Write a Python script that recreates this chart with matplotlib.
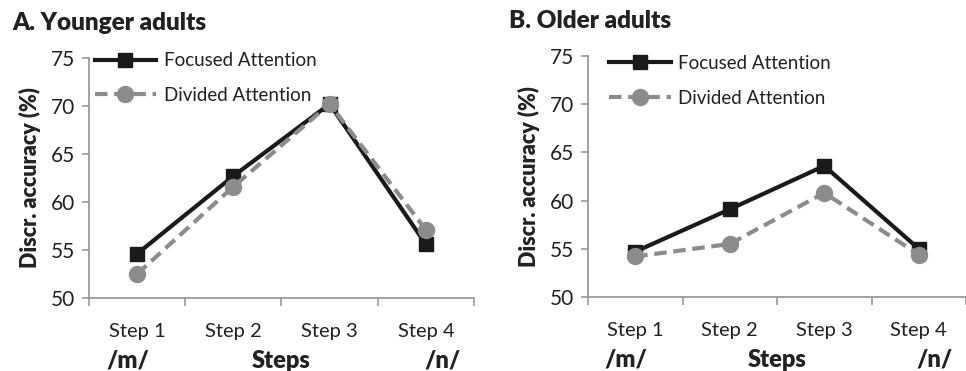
import numpy as np
import matplotlib.pyplot as plt
import matplotlib.transforms as mtransforms

steps = ["Step 1", "Step 2", "Step 3", "Step 4"]
younger_focused = [54.6, 62.7, 70.2, 55.6]
younger_divided = [52.5, 61.6, 70.2, 57.1]
older_focused = [54.7, 59.1, 63.6, 55.0]
older_divided = [54.2, 55.5, 60.8, 54.4]
titles = ["A. Younger adults", "B. Older adults"]
yticks = [50, 55, 60, 65, 70, 75]

plt.rcParams['font.family'] = ['Lato', 'DejaVu Sans']
txt = '#222222'
spine = '#9a9a9a'

fig = plt.figure(figsize=(9.66, 3.71), dpi=100)
ax1 = fig.add_axes([0.0921, 0.1968, 0.3986, 0.647])
ax2 = fig.add_axes([0.6087, 0.1995, 0.3913, 0.6496])

panels = [(ax1, younger_focused, younger_divided, (-0.005, 1.055), -0.2),
          (ax2, older_focused, older_divided, (0.035, 1.035), -0.21)]

x = np.arange(len(steps))
for i, (ax, foc, div, leg_pos, title_x) in enumerate(panels):
    ax.plot(x, foc, color='#1a1a1a', lw=3.0, marker='s', markersize=10.5,
            label='Focused Attention', zorder=3)
    ax.plot(x, div, color='#8c8c8c', lw=3.0, ls=(0, (3, 1.6)), marker='o',
            markersize=11.5, label='Divided Attention', zorder=4)
    ax.set_xlim(-0.5, 3.5)
    ax.set_ylim(50, 75)
    ax.set_yticks(yticks)
    ax.set_xticks(x)
    ax.set_xticklabels(steps, fontsize=14.5, color=txt)
    ax.set_xticks(np.arange(-0.5, 4.0, 1.0), minor=True)
    ax.tick_params(axis='x', which='major', length=0, pad=18)
    ax.tick_params(axis='x', which='minor', length=6, width=1.2, color=spine, direction='out')
    ax.tick_params(axis='y', length=5, width=1.2, color=spine, labelsize=15,
                   labelcolor=txt, pad=5)
    for s in ['top', 'right']:
        ax.spines[s].set_visible(False)
    for s in ['left', 'bottom']:
        ax.spines[s].set_color(spine)
        ax.spines[s].set_linewidth(1.3)
    ax.set_ylabel('Discr. accuracy (%)', fontsize=15.5, fontweight='heavy', color=txt, labelpad=7)
    ax.text(title_x, 1.117, titles[i], transform=ax.transAxes,
            fontsize=17.5, fontweight='heavy', color=txt, ha='left', va='baseline')
    tr = mtransforms.blended_transform_factory(ax.transData, ax.transAxes)
    ax.text(1.5, -0.215, 'Steps', transform=tr, fontsize=17, fontweight='heavy',
            color=txt, ha='center', va='top')
    ax.text(-0.1, -0.215, '/m/', transform=tr, fontsize=17, fontweight='heavy',
            color=txt, ha='center', va='top')
    ax.text(3.17, -0.215, '/n/', transform=tr, fontsize=17, fontweight='heavy',
            color=txt, ha='center', va='top')
    leg = ax.legend(loc='upper left', bbox_to_anchor=leg_pos, frameon=False,
                    fontsize=13.5, handlelength=3.3, handletextpad=0.4,
                    labelspacing=0.95, borderaxespad=0)
    for t in leg.get_texts():
        t.set_color(txt)

fig.savefig('out.png', dpi=100)
